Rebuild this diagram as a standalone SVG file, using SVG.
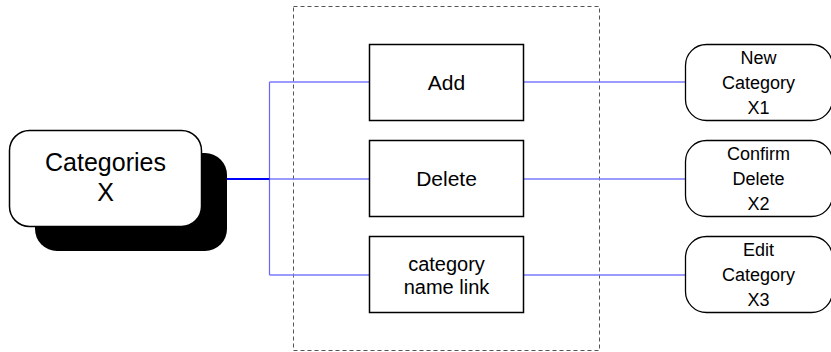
<svg xmlns="http://www.w3.org/2000/svg" width="831" height="352" viewBox="0 0 831 352">
<style>
text{font-family:"Liberation Sans",Arial,sans-serif;fill:#000;text-anchor:middle}
.box{fill:#fff;stroke:#000;stroke-width:1.5}
.rnode{fill:#fff;stroke:#000;stroke-width:1.3}
.lb{stroke:#7a7aff;stroke-width:1.5;fill:none}
.tr{stroke:#6464ff;stroke-width:1.2;fill:none}
.t21{font-size:21px}
.t18{font-size:18px}
</style>
<rect x="293.5" y="6.5" width="306" height="344" fill="none" stroke="#555" stroke-width="1" stroke-dasharray="4,3"/>
<g id="connectors">
<line class="tr" x1="269.5" y1="82" x2="269.5" y2="275"/>
<line class="lb" x1="269.5" y1="82" x2="369" y2="82"/>
<line class="lb" x1="269.5" y1="179" x2="369" y2="179"/>
<line class="lb" x1="269.5" y1="275" x2="369" y2="275"/>
<line class="lb" x1="523" y1="82" x2="685" y2="82"/>
<line class="lb" x1="523" y1="179" x2="685" y2="179"/>
<line class="lb" x1="523" y1="275" x2="685" y2="275"/>
<line x1="202" y1="179" x2="269.5" y2="179" stroke="#0000ff" stroke-width="2"/>
</g>
<g id="categories">
<rect x="35" y="153" width="192" height="98" rx="22" fill="#000"/>
<rect x="9.5" y="130.5" width="192" height="96" rx="20" fill="#fff" stroke="#000" stroke-width="1.5"/>
<text x="105.5" y="171" font-size="25">Categories</text>
<text x="105.5" y="201" font-size="25">X</text>
</g>
<g id="add">
<rect class="box" x="369.5" y="44.5" width="154" height="76"/>
<text class="t21" x="446.5" y="89.5">Add</text>
</g>
<g id="delete">
<rect class="box" x="369.5" y="140.5" width="154" height="76"/>
<text class="t21" x="446.5" y="186">Delete</text>
</g>
<g id="namelink">
<rect class="box" x="369.5" y="236.5" width="154" height="76"/>
<text x="446.5" y="270.5" font-size="20">category</text>
<text x="446.5" y="293.5" font-size="20">name link</text>
</g>
<g id="x1">
<rect class="rnode" x="685.5" y="44.5" width="147" height="76" rx="21"/>
<text class="t18" x="758.5" y="63.5">New</text>
<text class="t18" x="758.5" y="88.5">Category</text>
<text class="t18" x="758.5" y="113.5">X1</text>
</g>
<g id="x2">
<rect class="rnode" x="685.5" y="140.5" width="147" height="76" rx="21"/>
<text class="t18" x="758.5" y="159.5">Confirm</text>
<text class="t18" x="758.5" y="184.5">Delete</text>
<text class="t18" x="758.5" y="209.5">X2</text>
</g>
<g id="x3">
<rect class="rnode" x="685.5" y="236.5" width="147" height="76" rx="21"/>
<text class="t18" x="758.5" y="255.5">Edit</text>
<text class="t18" x="758.5" y="280.5">Category</text>
<text class="t18" x="758.5" y="305.5">X3</text>
</g>
</svg>
